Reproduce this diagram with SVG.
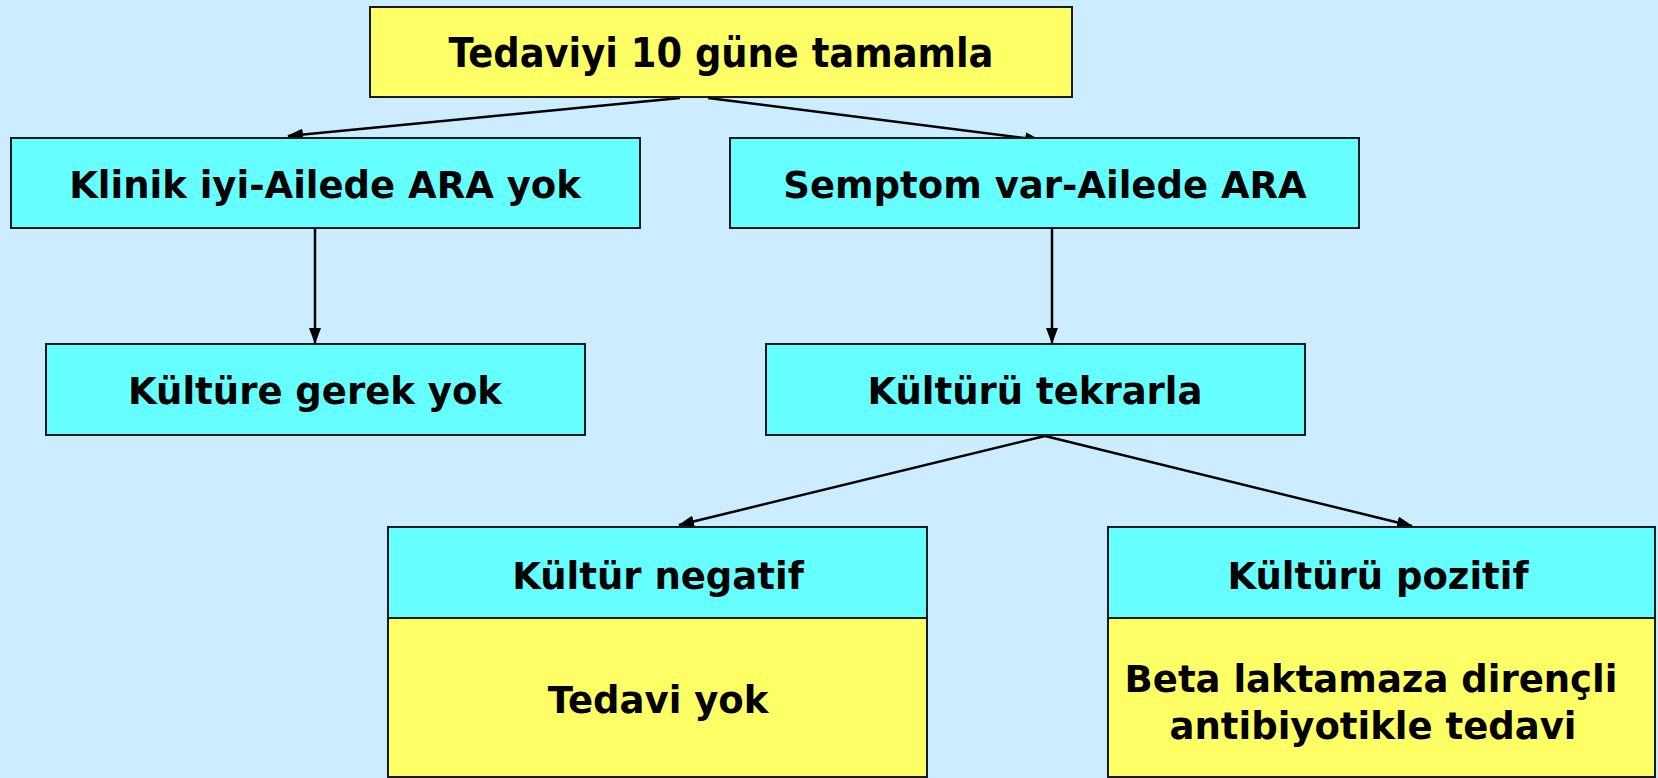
<svg xmlns="http://www.w3.org/2000/svg" width="1658" height="778" viewBox="0 0 1658 778">
  <defs>
    <marker id="arrow" viewBox="0 0 16 12" refX="15" refY="6" markerWidth="16" markerHeight="12" markerUnits="userSpaceOnUse" orient="auto">
      <path d="M0,0 L16,6 L0,12 Z" fill="#000"/>
    </marker>
  </defs>
  <style>
    .box { stroke: #1a1a1a; stroke-width: 2; }
    .cyan { fill: #66FFFF; }
    .yellow { fill: #FFFF66; }
    .label { font-family: "DejaVu Sans", Verdana, sans-serif; font-weight: bold; font-size: 37px; fill: #000; text-anchor: middle; }
    .title { font-family: "DejaVu Sans Condensed", "DejaVu Sans", sans-serif; font-weight: bold; font-size: 41px; fill: #000; text-anchor: middle; }
    .edge { stroke: #000; stroke-width: 2.5; fill: none; marker-end: url(#arrow); }
  </style>

  <rect width="1658" height="778" fill="#CCECFF"/>

  <g id="connectors">
    <line class="edge" x1="680" y1="98" x2="288" y2="136"/>
    <line class="edge" x1="708" y1="98" x2="1040" y2="140"/>
    <line class="edge" x1="315" y1="229" x2="315" y2="343"/>
    <line class="edge" x1="1052" y1="229" x2="1052" y2="343"/>
    <line class="edge" x1="1045" y1="436" x2="679" y2="525"/>
    <line class="edge" x1="1045" y1="436" x2="1412" y2="526"/>
  </g>

  <g id="node-tedaviyi">
    <rect class="box yellow" x="370" y="7" width="702" height="90"/>
    <text class="title" x="721" y="67">Tedaviyi 10 güne tamamla</text>
  </g>

  <g id="node-klinik">
    <rect class="box cyan" x="11" y="138" width="629" height="90"/>
    <text class="label" x="325" y="198">Klinik iyi-Ailede ARA yok</text>
  </g>

  <g id="node-semptom">
    <rect class="box cyan" x="730" y="138" width="629" height="90"/>
    <text class="label" x="1045" y="198">Semptom var-Ailede ARA</text>
  </g>

  <g id="node-kulture-gerek-yok">
    <rect class="box cyan" x="46" y="344" width="539" height="91"/>
    <text class="label" x="315" y="404">Kültüre gerek yok</text>
  </g>

  <g id="node-kulturu-tekrarla">
    <rect class="box cyan" x="766" y="344" width="539" height="91"/>
    <text class="label" x="1035" y="404">Kültürü tekrarla</text>
  </g>

  <g id="node-kultur-negatif">
    <rect class="box cyan" x="388" y="527" width="539" height="91"/>
    <rect class="box yellow" x="388" y="618" width="539" height="159"/>
    <text class="label" x="658" y="589">Kültür negatif</text>
    <text class="label" x="658" y="713">Tedavi yok</text>
  </g>

  <g id="node-kulturu-pozitif">
    <rect class="box cyan" x="1108" y="527" width="547" height="91"/>
    <rect class="box yellow" x="1108" y="618" width="547" height="159"/>
    <text class="label" x="1378" y="589">Kültürü pozitif</text>
    <text class="label" x="1371" y="692">Beta laktamaza dirençli</text>
    <text class="label" x="1373" y="739">antibiyotikle tedavi</text>
  </g>
</svg>
